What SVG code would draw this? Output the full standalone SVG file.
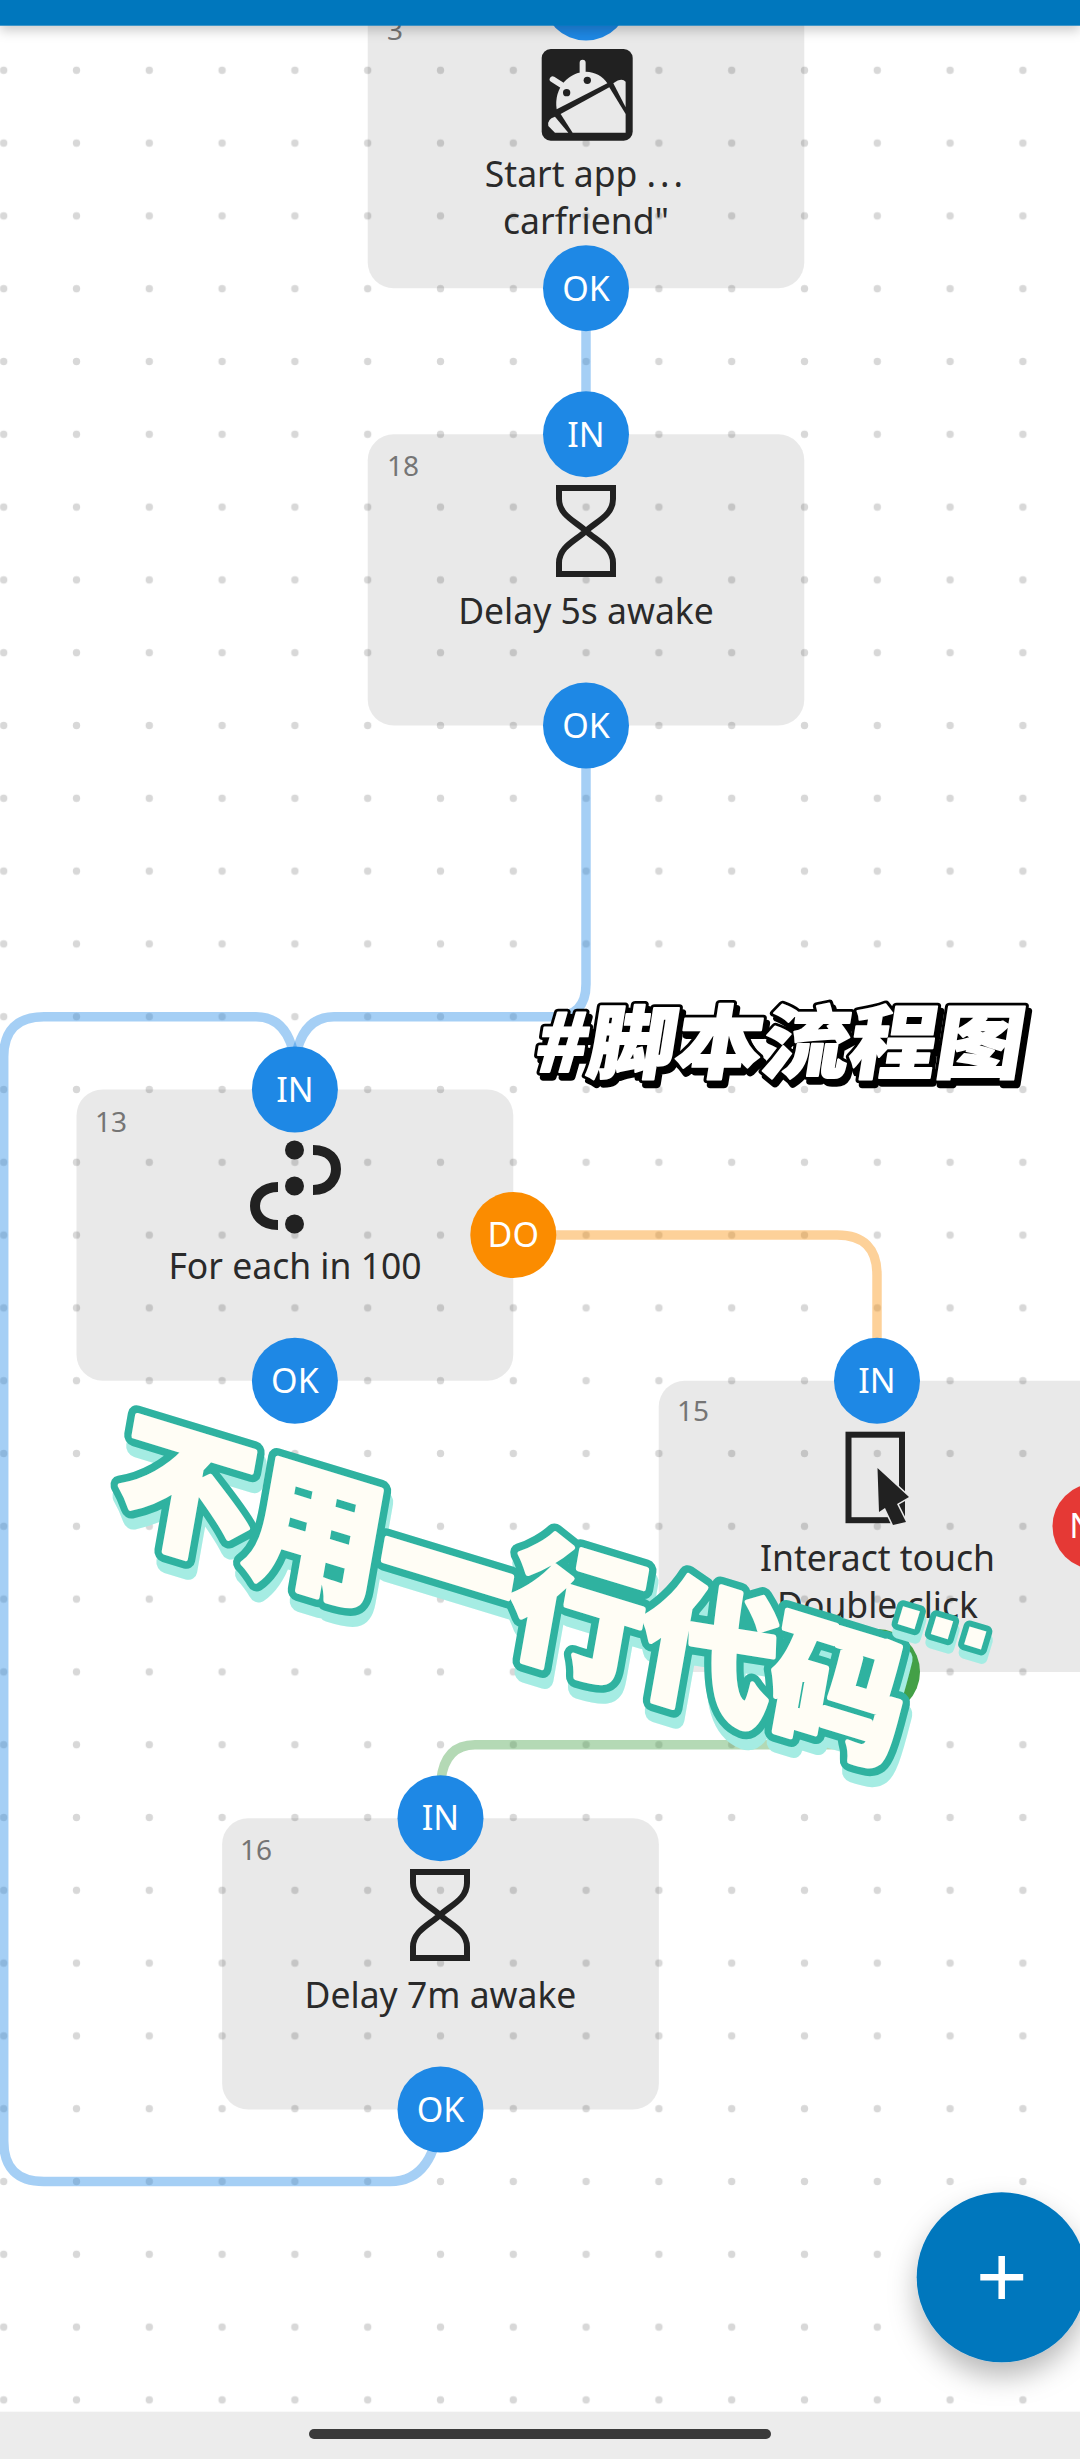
<svg xmlns="http://www.w3.org/2000/svg" width="1080" height="2459" viewBox="0 0 1080 2459">
<style>
.card{fill:#000;fill-opacity:.088}
.num{font:400 28px "Noto Sans",sans-serif;fill:#757575}
.lbl{font:400 35.5px "Noto Sans",sans-serif;fill:#2a2a2a;text-anchor:middle}
.pt{font:400 34px "Noto Sans",sans-serif;fill:#fff;text-anchor:middle}
.blue{fill:#1e88e5}.orange{fill:#fb8c00}.red{fill:#e53935}.green{fill:#43a047}
.ink{fill:none;stroke:#212121;stroke-width:6}
.c{fill:none;stroke-width:9.5;stroke-opacity:.4}
.cb{stroke:#1e88e5}.co{stroke:#fb8c00}.cg{stroke:#43a047}
.big{font:900 140px "Noto Sans CJK SC",sans-serif;letter-spacing:-3.5px;stroke-linejoin:round}
.ell{font:700 125px "Liberation Sans",sans-serif;stroke-linejoin:round}
.tag{font:900 87px "Noto Sans CJK SC",sans-serif;stroke-linejoin:round}
</style>
<defs>
<pattern id="dots" patternUnits="userSpaceOnUse" x="-32.7" y="-38.9" width="72.8" height="72.8"><circle cx="36.4" cy="36.4" r="3.7" fill="#d8d8d8"/></pattern>
<filter id="fabshadow" x="-30%" y="-30%" width="160%" height="170%"><feDropShadow dx="0" dy="14" stdDeviation="14" flood-color="#000" flood-opacity=".28"/></filter>
<filter id="barshadow" x="-5%" y="-50%" width="110%" height="300%"><feDropShadow dx="0" dy="5" stdDeviation="6" flood-color="#000" flood-opacity=".2"/></filter>
<path id="hourglass" class="ink" d="M-30,3H30M-27,3V14C-27,30-11,36 0,46C11,56 27,62 27,78V89H-27V78C-27,62-11,56 0,46C11,36 27,30 27,14V3M-30,89H30"/>
</defs>
<rect width="1080" height="2459" fill="#fff"/>
<rect id="grid-dots" width="1080" height="2411" fill="url(#dots)"/>
<g id="connectors">
<path class="c cb" d="M586,288V434"/>
<path class="c cb" d="M586,725V984Q586,1016.7 554,1016.7H334Q302,1016.7 295,1060V1089"/>
<path class="c cb" d="M440.5,2110Q436,2181.5 390,2181.5H44Q3.7,2181.5 3.7,2141V1057Q3.7,1016.7 44,1016.7H256Q288,1016.7 295,1060V1089"/>
<path class="c co" d="M513,1235H837Q877,1235 877,1275V1381"/>
<path class="c cg" d="M877,1672V1744.7H475Q443,1744.7 440.5,1785V1818"/>
</g>
<g id="node-3">
<rect class="card" x="367.7" y="-60" width="436.6" height="348.3" rx="26"/>
<text class="num" x="387" y="40">3</text>
<rect x="541.7" y="49" width="91" height="91.7" rx="9" fill="#212121"/>
<g transform="translate(340 0) scale(.3333)" fill="#e9e9e9">
<path d="M650,328C640,260 690,215 738,215C765,215 790,230 802,250Z"/>
<path d="M728,215V188M665,255L638,238" fill="none" stroke="#e9e9e9" stroke-width="18" stroke-linecap="round"/>
<circle cx="680" cy="278" r="11" fill="#212121"/><circle cx="742" cy="241" r="11" fill="#212121"/>
<path d="M662,342L808,262L857,342V398H698Z"/>
<path d="M820,250Q845,232 857,245V322Z"/>
<path d="M625,378Q620,358 645,350L685,398H645Z"/>
</g>
<text class="lbl" x="586" y="186.7">Start app <tspan letter-spacing="4">...</tspan></text>
<text class="lbl" x="586" y="233.5">carfriend"</text>
<circle class="blue" cx="586" cy="-2.5" r="43"/>
<circle class="blue" cx="586" cy="288.3" r="43"/><text class="pt" x="586" y="300.5">OK</text>
</g>
<g id="node-18">
<rect class="card" x="367.7" y="434.3" width="436.6" height="291.2" rx="26"/>
<text class="num" x="387" y="476">18</text>
<use href="#hourglass" x="586" y="485"/>
<text class="lbl" x="586" y="623.5">Delay 5s awake</text>
<circle class="blue" cx="586" cy="434.3" r="43"/><text class="pt" x="586" y="446.5">IN</text>
<circle class="blue" cx="586" cy="725.5" r="43"/><text class="pt" x="586" y="737.5">OK</text>
</g>
<g id="node-13">
<rect class="card" x="76.5" y="1089.5" width="436.8" height="291.2" rx="26"/>
<text class="num" x="95" y="1131.7">13</text>
<g fill="#212121"><circle cx="294.5" cy="1150" r="9.5"/><circle cx="294.5" cy="1186" r="9.5"/><circle cx="294.5" cy="1224" r="9.5"/></g>
<path d="M313,1150C330,1150 336,1160 336,1169C336,1178 330,1190 313,1190M278,1187C262,1187 255,1197 255,1206C255,1215 262,1225 278,1225" fill="none" stroke="#212121" stroke-width="10"/>
<text class="lbl" x="295" y="1278.5">For each in 100</text>
<circle class="blue" cx="294.9" cy="1089.5" r="43"/><text class="pt" x="294.9" y="1101.5">IN</text>
<circle class="blue" cx="294.9" cy="1380.7" r="43"/><text class="pt" x="294.9" y="1392.7">OK</text>
<circle class="orange" cx="513.3" cy="1235" r="43"/><text class="pt" x="513.3" y="1247">DO</text>
</g>
<g id="node-15">
<rect class="card" x="658.7" y="1380.7" width="460" height="291.2" rx="26"/>
<text class="num" x="677" y="1421">15</text>
<rect class="ink" x="848.5" y="1434.7" width="53.5" height="85.5"/>
<path d="M877.5,1468L909,1497L897,1504L906,1522L893,1525L885,1508L879,1512Z" fill="#212121" stroke="#e9e9e9" stroke-width="3" paint-order="stroke"/>
<text class="lbl" x="877.5" y="1571">Interact touch</text>
<text class="lbl" x="877.5" y="1618">Double click</text>
<circle class="blue" cx="877" cy="1380.7" r="43"/><text class="pt" x="877" y="1392.7">IN</text>
<circle class="red" cx="1095.5" cy="1526.3" r="43"/><text class="pt" x="1095.5" y="1538.3">NO</text>
<circle class="green" cx="877" cy="1671.9" r="43"/>
</g>
<g id="node-16">
<rect class="card" x="222.1" y="1818.3" width="436.8" height="291.2" rx="26"/>
<text class="num" x="240" y="1860">16</text>
<use href="#hourglass" x="440" y="1869"/>
<text class="lbl" x="440.5" y="2007.5">Delay 7m awake</text>
<circle class="blue" cx="440.5" cy="1818.3" r="43"/><text class="pt" x="440.5" y="1830.3">IN</text>
<circle class="blue" cx="440.5" cy="2109.5" r="43"/><text class="pt" x="440.5" y="2121.5">OK</text>
</g>
<rect id="top-bar" width="1080" height="25.7" fill="#0277bd" filter="url(#barshadow)"/>
<rect id="bottom-bar" y="2411.7" width="1080" height="47.3" fill="#ececec"/>
<rect id="home-handle" x="309" y="2429" width="462" height="10" rx="5" fill="#3a3a3a"/>
<g id="fab"><circle cx="1001.7" cy="2277.3" r="85" fill="#0277bd" filter="url(#fabshadow)"/>
<path d="M980.3,2277.3H1023.2M1001.7,2256V2299" stroke="#fff" stroke-width="6.5" fill="none"/></g>
<g id="caption-tag" transform="translate(532 1072) skewX(-9) scale(1 .92)">
<text class="tag" x="4" y="5" fill="#000" stroke="#000" stroke-width="8">#脚本流程图</text>
<text class="tag" x="0" y="0" fill="#000" stroke="#000" stroke-width="8">#脚本流程图</text>
<text class="tag" x="0" y="0" fill="#fff" stroke="#fff" stroke-width="2">#脚本流程图</text>
</g>
<g id="caption-main">
<g transform="matrix(.956 .292 -.174 .985 110 1522)">
<text class="big" x="4" y="10" fill="#a5ece3" stroke="#a5ece3" stroke-width="20">不用一行代码</text>
<text class="big" x="0" y="0" fill="#2fb2a0" stroke="#2fb2a0" stroke-width="20">不用一行代码</text>
<text class="big" x="0" y="0" fill="#fffdf5" stroke="#fffdf5" stroke-width="5">不用一行代码</text>
</g>
<g transform="translate(942 1628) rotate(17)">
<text class="ell" x="3" y="17" text-anchor="middle" fill="#a5ece3" stroke="#a5ece3" stroke-width="12">...</text>
<text class="ell" x="0" y="9" text-anchor="middle" fill="#fffdf5" stroke="#2fb2a0" stroke-width="12" paint-order="stroke">...</text>
</g>
</g>
</svg>
